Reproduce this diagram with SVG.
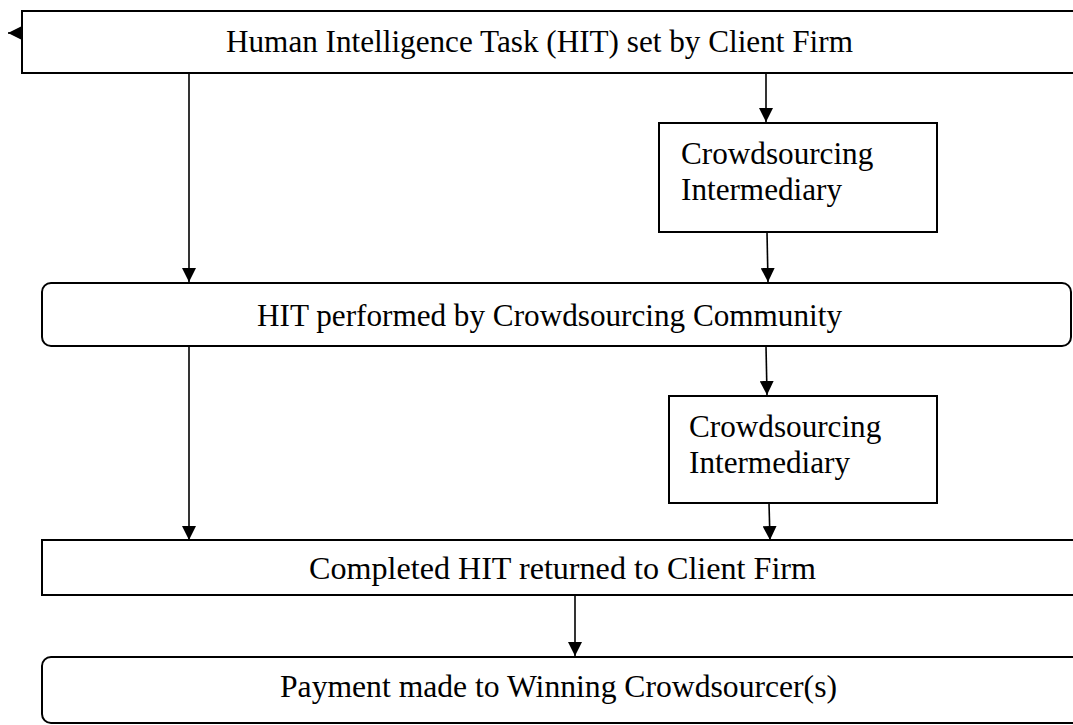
<svg xmlns="http://www.w3.org/2000/svg" width="1073" height="725" viewBox="0 0 1073 725">
<style>
.box{fill:#fff;stroke:#000;stroke-width:2}
.t{font-family:"Liberation Serif","Times New Roman",serif;font-size:31.2px;fill:#000}
.c{fill:none;stroke:#000;stroke-width:1.6}
</style>
<defs>
<marker id="ah" viewBox="0 0 10 10" refX="10" refY="5" markerWidth="14" markerHeight="14" markerUnits="userSpaceOnUse" orient="auto">
<path d="M0,0 L10,5 L0,10 Z" fill="#000"/>
</marker>
</defs>
<rect width="1073" height="725" fill="#fff"/>
<g id="n1">
<rect class="box" x="22" y="11" width="1070" height="62"/>
<text class="t" x="226" y="52">Human Intelligence Task (HIT) set by Client Firm</text>
</g>
<g id="n2">
<rect class="box" x="659" y="123" width="278" height="109"/>
<text class="t" x="681" y="164">Crowdsourcing</text>
<text class="t" x="681" y="200">Intermediary</text>
</g>
<g id="n3">
<rect class="box" x="42" y="283" width="1029" height="63" rx="9" ry="9"/>
<text class="t" x="257" y="326">HIT performed by Crowdsourcing Community</text>
</g>
<g id="n4">
<rect class="box" x="669" y="396" width="268" height="107"/>
<text class="t" x="689" y="437">Crowdsourcing</text>
<text class="t" x="689" y="473">Intermediary</text>
</g>
<g id="n5">
<rect class="box" x="42" y="540" width="1060" height="55"/>
<text class="t" x="309" y="579" textLength="507" lengthAdjust="spacingAndGlyphs">Completed HIT returned to Client Firm</text>
</g>
<g id="n6">
<rect class="box" x="42" y="657" width="1060" height="66" rx="9" ry="9"/>
<text class="t" x="280" y="697" textLength="557" lengthAdjust="spacingAndGlyphs">Payment made to Winning Crowdsourcer(s)</text>
</g>
<g id="connectors">
<line class="c" x1="22" y1="33" x2="8" y2="33" marker-end="url(#ah)"/>
<line class="c" x1="189" y1="73" x2="189" y2="282" marker-end="url(#ah)"/>
<line class="c" x1="766" y1="73" x2="766" y2="122" marker-end="url(#ah)"/>
<line class="c" x1="767" y1="232" x2="768" y2="282" marker-end="url(#ah)"/>
<line class="c" x1="189" y1="346" x2="189" y2="540" marker-end="url(#ah)"/>
<line class="c" x1="766" y1="346" x2="767" y2="395" marker-end="url(#ah)"/>
<line class="c" x1="769" y1="503" x2="770" y2="540" marker-end="url(#ah)"/>
<line class="c" x1="575" y1="595" x2="575" y2="656" marker-end="url(#ah)"/>
</g>
</svg>
